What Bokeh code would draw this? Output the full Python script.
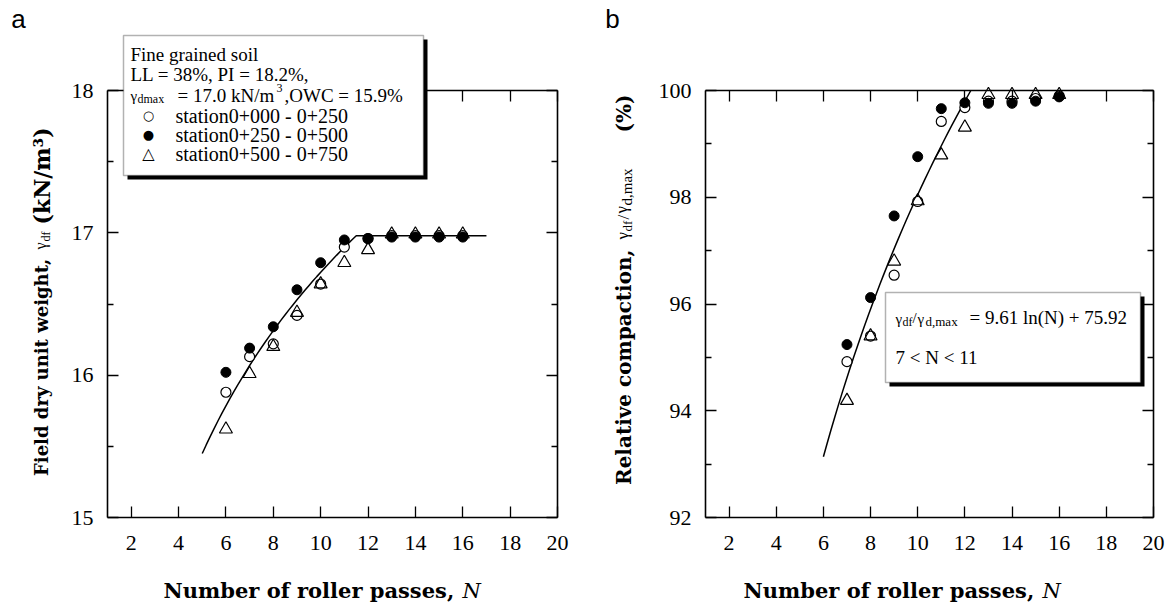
import math
import numpy as np
from bokeh.plotting import figure
from bokeh.models import Label, BoxAnnotation, LinearAxis, FixedTicker, Range1d, CustomJSTickFormatter
from bokeh.layouts import row
from bokeh.embed import file_html
from bokeh.resources import INLINE

# ---------------- data ----------------
passes_a = [6, 7, 8, 9, 10, 11, 12, 13, 14, 15, 16]
a_st_000_250 = [15.88, 16.13, 16.22, 16.42, 16.64, 16.90, 16.96, 16.98, 16.98, 16.98, 16.98]
a_st_250_500 = [16.02, 16.19, 16.34, 16.60, 16.79, 16.95, 16.96, 16.97, 16.97, 16.97, 16.97]
a_st_500_750 = [15.62, 16.01, 16.20, 16.44, 16.64, 16.79, 16.88, 16.99, 16.99, 16.99, 16.99]

passes_b = [7, 8, 9, 10, 11, 12, 13, 14, 15, 16]
b_st_000_250 = [94.92, 95.40, 96.54, 97.92, 99.42, 99.68, 99.80, 99.80, 99.85, 99.90]
b_st_250_500 = [95.24, 96.12, 97.65, 98.76, 99.66, 99.77, 99.76, 99.76, 99.80, 99.88]
b_st_500_750 = [94.19, 95.40, 96.80, 97.93, 98.79, 99.31, 99.92, 99.92, 99.92, 99.92]

# fitted trend lines (log fits)
fit_a_slope, fit_a_intercept, fit_a_plateau = 1.837, 12.493, 16.98
fit_a_start, fit_a_end = 5.0, 17.0
fit_b_slope, fit_b_intercept, fit_b_cap = 9.61, 75.92, 100.0
fit_b_start = 6.0

x_lo, x_hi = 1, 20
x_ticks = [2, 4, 6, 8, 10, 12, 14, 16, 18, 20]
ya_lo, ya_hi = 15, 18
ya_ticks = [15, 16, 17, 18]
ya_minor = [15.5, 16.5, 17.5]
yb_lo, yb_hi = 92, 100
yb_ticks = [92, 94, 96, 98, 100]
yb_minor = [93, 95, 97, 99]

legend_series = ["station0+000 - 0+250", "station0+250 - 0+500", "station0+500 - 0+750"]

SERIF = "Liberation Serif"
BSERIF = "DejaVu Serif"

# ---------------- layout (page pixels) ----------------
H = 603
WA, WB = 605, 565
FRAME_TOP, FRAME_BOT = 90, 517
A_LEFT, A_RIGHT = 107, 557
B_LEFT, B_RIGHT = 705, 1153


def mapper(px_lo, px_hi, v_lo, v_hi):
    return lambda px: v_lo + (px - px_lo) * (v_hi - v_lo) / (px_hi - px_lo)


fxa = mapper(A_LEFT, A_RIGHT, x_lo, x_hi)
fya = mapper(FRAME_BOT, FRAME_TOP, ya_lo, ya_hi)
fxb = mapper(B_LEFT, B_RIGHT, x_lo, x_hi)
fyb = mapper(FRAME_BOT, FRAME_TOP, yb_lo, yb_hi)


def make_fig(width, xr, yr, y_lo, y_hi, yticks, yminor):
    p = figure(width=width, height=H, x_range=Range1d(*xr), y_range=Range1d(*yr),
               output_backend="svg", toolbar_location=None,
               x_axis_location=None, y_axis_location=None,
               min_border=0, min_border_left=0, min_border_right=0,
               min_border_top=0, min_border_bottom=0)
    p.grid.visible = False
    p.outline_line_color = None
    p.background_fill_color = "white"
    p.border_fill_color = "white"
    xt = FixedTicker(ticks=x_ticks, minor_ticks=[])
    yt = FixedTicker(ticks=yticks, minor_ticks=yminor)
    blank = CustomJSTickFormatter(code="return ''")
    specs = [("below", xt, y_lo, (x_lo, x_hi), True),
             ("above", xt, y_hi, (x_lo, x_hi), False),
             ("left", yt, x_lo, (y_lo, y_hi), True),
             ("right", yt, x_hi, (y_lo, y_hi), False)]
    for loc, tk, fixed, bnds, labels in specs:
        ax = LinearAxis(ticker=tk, fixed_location=fixed, bounds=bnds,
                        major_tick_in=11, major_tick_out=0, minor_tick_in=6, minor_tick_out=0,
                        axis_line_width=1.6, major_tick_line_width=1.3, minor_tick_line_width=1.3,
                        axis_line_color="black", major_tick_line_color="black",
                        minor_tick_line_color="black")
        if labels:
            ax.major_label_text_font = SERIF
            ax.major_label_text_font_size = "22px"
            ax.major_label_text_color = "black"
            ax.major_label_standoff = 18 if loc == "below" else 14
        else:
            ax.formatter = blank
            ax.major_label_standoff = 0
        p.add_layout(ax, loc)
    return p


def lab(p, x, y, text, size, font=SERIF, style="normal", angle=0.0, align="left", base="middle"):
    p.add_layout(Label(x=x, y=y, text=text, text_font=font, text_font_size=f"{size}px",
                       text_font_style=style, text_color="black", angle=angle,
                       text_align=align, text_baseline=base))


def box(p, l, r, t, b, fill, line):
    p.add_layout(BoxAnnotation(left=l, right=r, top=t, bottom=b, fill_color=fill, fill_alpha=1,
                               line_color=line, line_width=1.5))


RA = math.pi / 2

# ---------------- panel a ----------------
pa = make_fig(WA, (fxa(0), fxa(WA)), (fya(H), fya(0)), ya_lo, ya_hi, ya_ticks, ya_minor)

n_cross = math.exp((fit_a_plateau - fit_a_intercept) / fit_a_slope)
na = np.linspace(fit_a_start, n_cross, 40)
line_x = list(na) + [fit_a_end]
line_y = list(fit_a_slope * np.log(na) + fit_a_intercept) + [fit_a_plateau]
pa.line(line_x, line_y, line_color="black", line_width=1.5)

pa.scatter(passes_a, a_st_000_250, marker="circle", size=10, fill_color="white", line_color="black", line_width=1.2)
pa.scatter(passes_a, a_st_250_500, marker="circle", size=10, fill_color="black", line_color="black")
pa.scatter(passes_a, a_st_500_750, marker="triangle", size=13, fill_color=None, line_color="black", line_width=1.2)

# legend box (shadow + box)
box(pa, fxa(127), fxa(427), fya(39), fya(179), "black", None)
box(pa, fxa(123), fxa(423), fya(35), fya(175), "white", "black")
lab(pa, fxa(130), fya(54), "Fine grained soil", 19)
lab(pa, fxa(130), fya(74), "LL = 38%, PI = 18.2%,", 19)
lab(pa, fxa(130), fya(95), "γ", 15)
lab(pa, fxa(137), fya(98), "dmax", 12)
lab(pa, fxa(177), fya(95), "= 17.0 kN/m", 19)
lab(pa, fxa(276), fya(87), "3", 12)
lab(pa, fxa(284), fya(95), ",OWC = 15.9%", 19)
lab(pa, fxa(148), fya(115), "○", 13, font="DejaVu Sans", align="center")
lab(pa, fxa(148), fya(134), "●", 13, font="DejaVu Sans", align="center")
lab(pa, fxa(148), fya(153), "△", 16, font="DejaVu Sans", align="center")
lab(pa, fxa(175), fya(115), legend_series[0], 20)
lab(pa, fxa(175), fya(134), legend_series[1], 20)
lab(pa, fxa(175), fya(153), legend_series[2], 20)

# axis titles
lab(pa, fxa(461), fya(590), "Number of roller passes, ", 21, font=BSERIF, style="bold", align="right")
lab(pa, fxa(462), fya(590), "N", 21, font=BSERIF, style="italic")
lab(pa, fxa(41), fya(252), "Field dry unit weight, ", 18, font=BSERIF, style="bold", angle=RA, align="right")
lab(pa, fxa(40), fya(249), "γ", 16, angle=RA)
lab(pa, fxa(45), fya(241), "df", 12, angle=RA)
lab(pa, fxa(41), fya(224), "(kN/m³)", 22, font=BSERIF, style="bold", angle=RA)
lab(pa, fxa(18), fya(18), "a", 26, font="Liberation Sans", align="center")

# ---------------- panel b ----------------
pb = make_fig(WB, (fxb(WA), fxb(WA + WB)), (fyb(H), fyb(0)), yb_lo, yb_hi, yb_ticks, yb_minor)

n_cap = math.exp((fit_b_cap - fit_b_intercept) / fit_b_slope)
nb = np.linspace(fit_b_start, n_cap, 40)
pb.line(list(nb), list(fit_b_slope * np.log(nb) + fit_b_intercept), line_color="black", line_width=1.5)

pb.scatter(passes_b, b_st_000_250, marker="circle", size=10, fill_color="white", line_color="black", line_width=1.2)
pb.scatter(passes_b, b_st_250_500, marker="circle", size=10, fill_color="black", line_color="black")
pb.scatter(passes_b, b_st_500_750, marker="triangle", size=13, fill_color=None, line_color="black", line_width=1.2)

box(pb, fxb(889), fxb(1144), fyb(296), fyb(386), "black", None)
box(pb, fxb(885), fxb(1140), fyb(292), fyb(382), "white", "black")
lab(pb, fxb(895), fyb(318), "γ", 15)
lab(pb, fxb(902), fyb(321), "df", 12)
lab(pb, fxb(912), fyb(317), "/", 15)
lab(pb, fxb(917), fyb(318), "γ", 15)
lab(pb, fxb(925), fyb(321), "d,max", 13)
lab(pb, fxb(969), fyb(317), "= 9.61 ln(N) + 75.92", 19)
lab(pb, fxb(895), fyb(357), "7 < N < 11", 19)

lab(pb, fxb(1041), fyb(590), "Number of roller passes, ", 21, font=BSERIF, style="bold", align="right")
lab(pb, fxb(1042), fyb(590), "N", 21, font=BSERIF, style="italic")
lab(pb, fxb(623), fyb(242), "Relative compaction, ", 20, font=BSERIF, style="bold", angle=RA, align="right")
lab(pb, fxb(622), fyb(239), "γ", 17, angle=RA)
lab(pb, fxb(627), fyb(231), "df", 13, angle=RA)
lab(pb, fxb(623), fyb(219), "/", 17, angle=RA)
lab(pb, fxb(621), fyb(213), "γ", 17, angle=RA)
lab(pb, fxb(626), fyb(205), "d,max", 15, angle=RA)
lab(pb, fxb(623), fyb(132), "(%)", 20, font=BSERIF, style="bold", angle=RA)
lab(pb, fxb(612), fyb(18), "b", 26, font="Liberation Sans", align="center")

layout = row(pa, pb)
open("out.html", "w").write(file_html(layout, INLINE))
